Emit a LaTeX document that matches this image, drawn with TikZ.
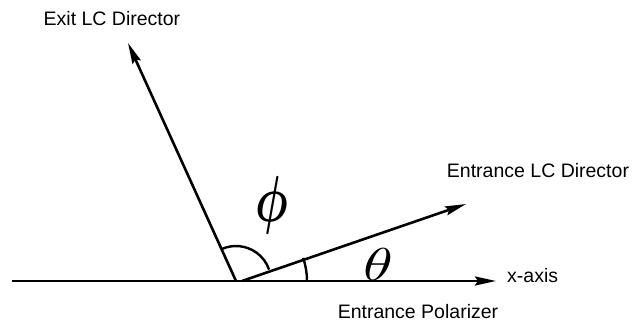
\documentclass[tikz,border=0pt]{standalone}
\usepackage{fontspec}
\usepackage{bm}
\setmainfont{Liberation Sans}
\usetikzlibrary{arrows.meta,calc}
\begin{document}
\begin{tikzpicture}[x=1pt,y=-1pt,
  vec/.style={line width=2.6pt,-{Stealth[length=21pt,width=9pt,inset=3pt]}},
  ang/.style={line width=2.4pt},
  lbl/.style={anchor=base,inner sep=0pt,font=\fontsize{19.5}{22}\selectfont},
  sym/.style={inner sep=0pt}]
\useasboundingbox (0,0) rectangle (640,325);
\coordinate (O) at (236,281);
\coordinate (O2) at (242,281);
\coordinate (xs) at (12,281);
\coordinate (xe) at (496,281);
\coordinate (ex) at (128,43);
\coordinate (en) at (466,204);
\draw[vec] (xs) -- (xe);
\draw[vec] (O) -- (ex);
\draw[vec] (O2) -- (en);
\draw[ang] ($(O)+(-114.6:35)$) arc[start angle=-114.6,end angle=-19,radius=35];
\draw[ang] ($(O)+(0:71)$) arc[start angle=0,end angle=-19,radius=71];
\node[lbl] (exl) at (112,25) {Exit LC Director};
\node[lbl] (enl) at (538,177) {Entrance LC Director};
\node[lbl,anchor=base west] (xl) at (507,282) {x-axis};
\node[lbl] (pl) at (418,318) {Entrance Polarizer};
\node[sym,xscale=4.6,yscale=6.5] (phi) at (272,205) {$\bm{\phi}$};
\node[sym,xscale=6,yscale=4.6] (th) at (378,265) {$\theta$};
\end{tikzpicture}
\end{document}
